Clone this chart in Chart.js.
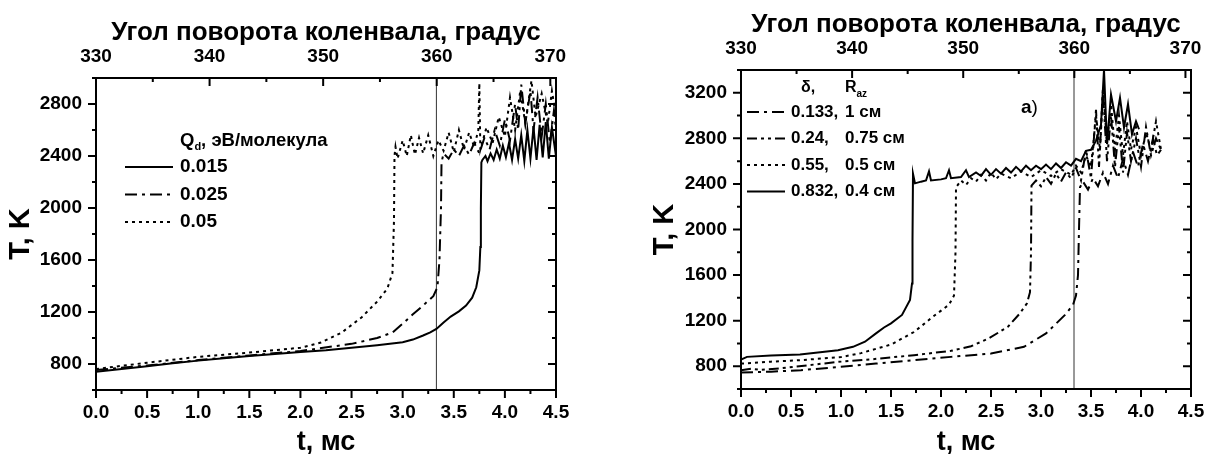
<!DOCTYPE html>
<html>
<head>
<meta charset="utf-8">
<script src="https://cdn.jsdelivr.net/npm/chart.js@4.4.0/dist/chart.umd.min.js"></script>
<style>
  body { margin: 0; background: #fff; width: 1208px; height: 454px; overflow: hidden; position: relative; }
  canvas { position: absolute; top: 0; }
  #c1 { left: 0; }
  #c2 { left: 604px; }
</style>
</head>
<body>
<canvas id="c1" width="604" height="454"></canvas>
<canvas id="c2" width="604" height="454"></canvas>
<script>
// axis ticks
const tTicks = [0, 0.5, 1.0, 1.5, 2.0, 2.5, 3.0, 3.5, 4.0, 4.5];
const angleTicks = [330, 340, 350, 360, 370];
const yTicksLeft = [800, 1200, 1600, 2000, 2400, 2800];
const yTicksRight = [800, 1200, 1600, 2000, 2400, 2800, 3200];
const t360 = 3.33; // 360 degrees

// left chart: Qd, eV/molecule
const qLabels = ['0.015', '0.025', '0.05'];
const tQ015 = [0,0.25,0.5,0.75,1.0,1.25,1.5,1.75,2.0,2.25,2.5,2.75,3.0,3.1,3.2,3.27,3.33,3.4,3.47,3.55,3.62,3.68,3.72,3.75,3.76,3.765,3.77,
  3.78,3.81,3.83,3.86,3.89,3.92,3.95,3.98,4.01,4.04,4.07,4.10,4.13,4.16,4.19,4.22,4.25,4.28,4.31,4.34,4.37,4.40,4.43,4.46,4.5];
const TQ015 = [740,762,783,805,826,845,862,877,892,905,925,945,968,988,1019,1043,1070,1120,1165,1205,1250,1310,1390,1520,1700,2000,2350,
  2370,2400,2360,2420,2370,2450,2380,2480,2390,2500,2370,2530,2380,2560,2360,2600,2380,2620,2370,2640,2390,2660,2380,2620,2400];
const tQ025 = [0,0.5,1.0,1.5,2.0,2.5,2.75,2.9,3.0,3.1,3.2,3.3,3.34,3.36,3.375,3.38,
  3.40,3.45,3.50,3.55,3.60,3.65,3.70,3.75,3.80,3.85,3.90,3.95,4.00,4.05,4.10,4.13,4.16,4.20,4.25,4.28,4.32,4.36,4.40,4.44,4.48,4.5];
const TQ025 = [754,788,830,866,900,955,1000,1042,1110,1182,1250,1322,1390,1600,2000,2350,
  2420,2380,2450,2400,2480,2410,2500,2420,2540,2450,2600,2480,2680,2520,2800,2600,2950,2650,2900,2600,2850,2550,2800,2500,2750,2600];
const tQ05 = [0,0.5,1.0,1.5,2.0,2.2,2.4,2.6,2.75,2.85,2.9,2.915,2.92,2.93,
  2.95,3.0,3.04,3.08,3.12,3.16,3.2,3.25,3.3,3.35,3.4,3.45,3.5,3.55,3.6,3.65,3.7,3.74,3.75,3.76,3.82,3.88,3.94,4.0,4.05,4.1,4.15,4.2,4.26,4.3,4.36,4.42,4.46,4.5];
const TQ05 = [761,810,855,888,925,965,1040,1160,1280,1380,1500,1900,2400,2470,
  2380,2520,2400,2560,2410,2540,2420,2560,2400,2520,2440,2580,2430,2600,2450,2580,2470,2600,2960,2450,2620,2500,2700,2550,2850,2600,2900,2650,2980,2700,2880,2650,2900,2700];

// right chart: delta and R_az
const dLabels = ['0.133,', '0.24,', '0.55,', '0.832,'];
const rLabels = ['1 см', '0.75 см', '0.5 см', '0.4 см'];
const tD0133 = [0,0.3,0.6,1.0,1.35,1.7,2.1,2.5,2.83,3.05,3.24,3.32,3.35,3.37,3.38,3.39,
  3.42,3.47,3.52,3.57,3.62,3.67,3.72,3.77,3.82,3.87,3.92,3.97,4.02,4.07,4.12,4.16,4.2];
const TD0133 = [745,752,765,795,823,850,882,911,970,1088,1250,1338,1420,1600,2000,2370,
  2420,2350,2450,2380,2500,2400,2560,2450,2620,2480,2680,2550,2750,2600,2800,2650,2700];
const tD024 = [0,0.1,0.2,0.4,0.97,1.3,1.73,2.1,2.3,2.48,2.67,2.79,2.86,2.89,2.9,2.905,
  2.95,3.0,3.05,3.1,3.15,3.2,3.25,3.3,3.35,3.4,3.45,3.5,3.55,3.58,3.62,3.66,3.7,3.74,3.78,3.82,3.86,3.9,3.95,4.0,4.05,4.1,4.15,4.2];
const TD024 = [765,778,768,782,838,860,897,935,975,1045,1147,1265,1353,1450,1800,2385,
  2430,2380,2460,2400,2490,2420,2500,2450,2540,2430,2700,2450,3050,2550,3200,2600,3000,2550,2900,2500,2850,2600,2800,2550,2900,2650,2800,2700];
const tD055 = [0,0.3,0.59,1.0,1.2,1.5,1.73,1.92,2.08,2.13,2.145,2.15,
  2.2,2.25,2.3,2.35,2.4,2.45,2.5,2.55,2.6,2.7,2.8,2.9,3.0,3.1,3.2,3.3,3.35,3.4,3.45,3.5,3.55,3.59,3.62,3.66,3.7,3.74,3.78,3.82,3.86,3.9,3.95,4.0,4.05,4.1,4.15,4.2];
const TD055 = [823,840,853,880,915,990,1100,1235,1340,1420,1800,2370,
  2430,2390,2450,2420,2480,2430,2500,2440,2490,2450,2510,2460,2520,2470,2530,2480,2560,2500,2650,2550,3000,2700,3250,2750,3100,2700,3000,2650,2950,2700,2900,2650,2850,2700,2950,2700];
const tD0832 = [0,0.06,0.3,0.59,0.97,1.12,1.24,1.35,1.43,1.5,1.61,1.69,1.71,1.715,1.72,
  1.74,1.8,1.85,1.88,1.9,2.0,2.05,2.08,2.1,2.2,2.25,2.28,2.35,2.4,2.45,2.5,2.55,2.6,2.65,2.7,2.75,2.8,2.85,2.9,2.95,3.0,3.05,3.1,3.15,3.2,3.25,3.3,3.35,3.4,3.45,3.5,3.55,3.6,3.63,3.66,3.7,3.75,3.79,3.83,3.87,3.91,3.95,3.98];
const TD0832 = [859,882,893,903,941,970,1015,1088,1140,1176,1250,1382,1527,1900,2490,
  2405,2420,2430,2510,2430,2440,2450,2520,2450,2460,2520,2460,2500,2470,2530,2480,2530,2490,2540,2500,2550,2510,2560,2520,2560,2530,2570,2530,2580,2540,2590,2560,2620,2600,2690,2700,2780,2920,3400,2750,3185,2950,3155,2895,3100,2835,2950,2880];

Chart.defaults.font.family = '"Liberation Sans", Arial, sans-serif';
Chart.defaults.color = '#000';

const FONT = '"Liberation Sans", Arial, sans-serif';
const DASHDOT = [12, 5, 3, 5];
const DASHDOTDOT = [10, 4, 3, 4, 3, 4];
const DOT = [3, 4];

function ser(t, T) {
  return t.map((v, i) => ({ x: v, y: T[i] }));
}

function curve(label, t, T, dash) {
  return {
    label: label,
    data: ser(t, T),
    borderColor: '#000',
    borderWidth: 2,
    borderDash: dash,
    pointRadius: 0,
    tension: 0,
    fill: false
  };
}

function marker(yMin, yMax) {
  return {
    label: '',
    data: [{ x: t360, y: yMin }, { x: t360, y: yMax }],
    borderColor: '#333',
    borderWidth: 1,
    pointRadius: 0
  };
}

// frame + tick marks (minor ticks, inward on top/right)
const axesFrame = {
  id: 'axesFrame',
  afterDatasetsDraw(chart) {
    const { ctx, chartArea: a } = chart;
    const sx = chart.scales.x, sy = chart.scales.y, sa = chart.scales.x2;
    ctx.save();
    ctx.strokeStyle = '#000';
    ctx.lineWidth = 2;
    ctx.beginPath();
    for (let i = 0; i <= 18; i++) {
      const px = sx.getPixelForValue(i * 0.25);
      const len = i % 2 === 0 ? 8 : 4;
      ctx.moveTo(px, a.bottom); ctx.lineTo(px, a.bottom + len);
    }
    for (let v = 330; v <= sa.max; v += 5) {
      const px = sa.getPixelForValue(v);
      const len = v % 10 === 0 ? 8 : 4;
      ctx.moveTo(px, a.top); ctx.lineTo(px, a.top + len);
    }
    for (let v = sy.min; v <= sy.max; v += 200) {
      const py = sy.getPixelForValue(v);
      const len = v % 400 === 0 ? 8 : 4;
      ctx.moveTo(a.left, py); ctx.lineTo(a.left - len, py);
      ctx.moveTo(a.right, py); ctx.lineTo(a.right - len, py);
    }
    ctx.stroke();
    ctx.strokeRect(a.left, a.top, a.right - a.left, a.bottom - a.top);
    ctx.restore();
  }
};

function buildScales(o) {
  return {
    x: {
      type: 'linear', position: 'bottom', min: 0, max: 4.5,
      afterBuildTicks: s => { s.ticks = tTicks.map(v => ({ value: v })); },
      afterFit: s => { s.height = o.botH; },
      grid: { drawOnChartArea: false, tickLength: 8, color: 'rgba(0,0,0,0)' },
      border: { display: false },
      ticks: { font: { size: 19, weight: 'bold' }, color: '#000', padding: 3, maxRotation: 0, autoSkip: false,
        callback: v => v.toFixed(1) },
      title: { display: true, text: 't, мс', color: '#000',
        font: { size: 27, weight: 'bold', lineHeight: 0.85 }, padding: { top: 0, bottom: 0 } }
    },
    x2: {
      type: 'linear', position: 'top', min: 330, max: 370.5,
      afterBuildTicks: s => { s.ticks = angleTicks.map(v => ({ value: v })); },
      afterFit: s => { s.height = o.topH; },
      grid: { drawOnChartArea: false, tickLength: 8, color: 'rgba(0,0,0,0)' },
      border: { display: false },
      ticks: { font: { size: 19, weight: 'bold' }, color: '#000', padding: 2, maxRotation: 0, autoSkip: false,
        callback: v => String(v) },
      title: { display: true, text: 'Угол поворота коленвала, градус', color: '#000',
        font: { size: 26, weight: 'bold', lineHeight: 1.2 }, padding: { top: o.topTitlePad, bottom: 0 } }
    },
    y: {
      type: 'linear', position: 'left', min: 600, max: o.yMax,
      afterBuildTicks: s => { s.ticks = o.yTicks.map(v => ({ value: v })); },
      afterFit: s => { s.width = o.yW; },
      grid: { drawOnChartArea: false, tickLength: 8, color: 'rgba(0,0,0,0)' },
      border: { display: false },
      ticks: { font: { size: 19, weight: 'bold' }, color: '#000', padding: 6, autoSkip: false,
        callback: v => String(v) },
      title: { display: true, text: 'T, K', color: '#000',
        font: { size: 29, weight: 'bold', lineHeight: 1.2 }, padding: { top: o.yTitlePad, bottom: 0 } }
    }
  };
}

const legendLeft = {
  id: 'legendLeft',
  afterDraw(chart) {
    const ctx = chart.ctx;
    ctx.save();
    ctx.fillStyle = '#000';
    ctx.textBaseline = 'middle';
    ctx.textAlign = 'left';
    let x = 180;
    const y = 141;
    ctx.font = 'bold 18.5px ' + FONT;
    ctx.fillText('Q', x, y); x += ctx.measureText('Q').width;
    ctx.font = 'bold 11px ' + FONT;
    ctx.fillText('d', x, y + 6); x += ctx.measureText('d').width;
    ctx.font = 'bold 18.5px ' + FONT;
    ctx.fillText(', эВ/молекула', x, y);
    chart.data.datasets.slice(0, 3).forEach((ds, i) => {
      const yy = 167 + i * 27.5;
      ctx.beginPath();
      ctx.setLineDash(ds.borderDash || []);
      ctx.lineWidth = 2;
      ctx.strokeStyle = '#000';
      ctx.moveTo(125, yy); ctx.lineTo(173, yy);
      ctx.stroke();
      ctx.setLineDash([]);
      ctx.font = 'bold 19px ' + FONT;
      ctx.fillText(ds.label, 180, yy);
    });
    ctx.restore();
  }
};

const legendRight = {
  id: 'legendRight',
  afterDraw(chart) {
    const ctx = chart.ctx;
    ctx.save();
    ctx.fillStyle = '#000';
    ctx.textBaseline = 'middle';
    ctx.textAlign = 'left';
    const c1 = 187, c2 = 241;
    const y0 = 88;
    ctx.font = 'bold 16px ' + FONT;
    ctx.fillText('δ,', c1 + 10, y0);
    ctx.fillText('R', c2, y0);
    const rw = ctx.measureText('R').width;
    ctx.font = 'bold 10px ' + FONT;
    ctx.fillText('az', c2 + rw, y0 + 6);
    chart.data.datasets.slice(0, 4).forEach((ds, i) => {
      const yy = 112 + i * 26.5;
      ctx.beginPath();
      ctx.setLineDash(ds.borderDash || []);
      ctx.lineWidth = 2;
      ctx.strokeStyle = '#000';
      ctx.moveTo(143, yy); ctx.lineTo(181, yy);
      ctx.stroke();
      ctx.setLineDash([]);
      ctx.font = 'bold 17px ' + FONT;
      ctx.fillText(dLabels[i], c1, yy);
      ctx.fillText(rLabels[i], c2, yy);
    });
    // panel mark
    const px = chart.scales.x.getPixelForValue(2.8);
    const py = chart.scales.y.getPixelForValue(3066);
    ctx.font = 'bold 19px ' + FONT;
    ctx.fillText('а', px, py);
    const aw = ctx.measureText('а').width;
    ctx.font = '19px ' + FONT;
    ctx.fillText(')', px + aw, py);
    ctx.restore();
  }
};

const common = {
  responsive: false,
  animation: false,
  devicePixelRatio: 1,
  plugins: { legend: { display: false }, tooltip: { enabled: false } }
};

new Chart(document.getElementById('c1'), {
  type: 'line',
  data: {
    datasets: [
      curve(qLabels[0], tQ015, TQ015, []),
      curve(qLabels[1], tQ025, TQ025, DASHDOT),
      curve(qLabels[2], tQ05, TQ05, DOT),
      marker(600, 3000)
    ]
  },
  options: Object.assign({}, common, {
    layout: { padding: { left: 0, right: 48, top: 0, bottom: 0 } },
    scales: buildScales({ yMax: 3000, yTicks: yTicksLeft, yW: 96, topH: 78, botH: 64, yTitlePad: 4, topTitlePad: 17 })
  }),
  plugins: [axesFrame, legendLeft]
});

new Chart(document.getElementById('c2'), {
  type: 'line',
  data: {
    datasets: [
      curve(dLabels[0], tD0133, TD0133, DASHDOT),
      curve(dLabels[1], tD024, TD024, DASHDOTDOT),
      curve(dLabels[2], tD055, TD055, DOT),
      curve(dLabels[3], tD0832, TD0832, []),
      marker(600, 3400)
    ]
  },
  options: Object.assign({}, common, {
    layout: { padding: { left: 0, right: 17, top: 0, bottom: 0 } },
    scales: buildScales({ yMax: 3400, yTicks: yTicksRight, yW: 137, topH: 70, botH: 65, yTitlePad: 44, topTitlePad: 9 })
  }),
  plugins: [axesFrame, legendRight]
});
</script>
</body>
</html>
